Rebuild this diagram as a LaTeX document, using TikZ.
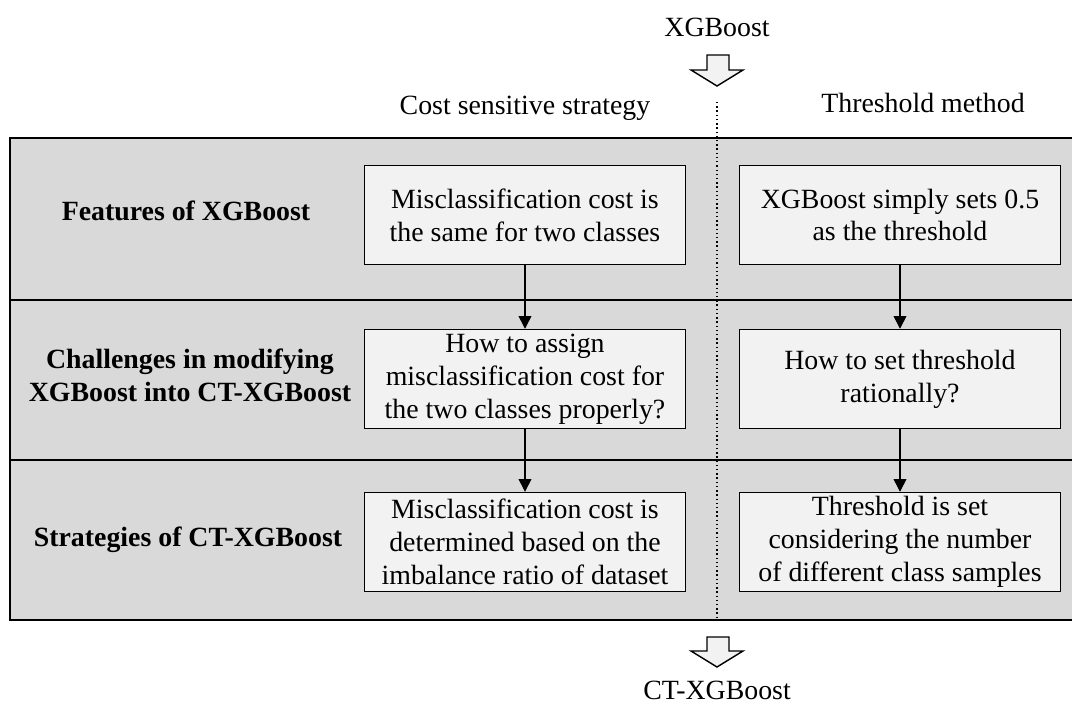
\documentclass[tikz,border=0pt]{standalone}
\usepackage{fontspec}
\setmainfont{Liberation Serif}
\usetikzlibrary{arrows.meta}

\definecolor{panelgray}{HTML}{D9D9D9}
\definecolor{boxgray}{HTML}{F2F2F2}

\tikzset{
    stepbox/.style={draw, line width=1pt, fill=boxgray, align=center,
        minimum width=8.025cm, minimum height=2.475cm, inner sep=2pt,
        font=\fontsize{19.8}{23.4}\selectfont},
    rowlabel/.style={align=center, font=\bfseries\fontsize{19.8}{23.4}\selectfont},
    headlabel/.style={font=\fontsize{19.8}{23.4}\selectfont},
    flow/.style={-{Triangle[length=9pt,width=9pt]}, line width=1pt}
}

\begin{document}
\begin{tikzpicture}[x=0.025cm, y=-0.025cm]
    \useasboundingbox (0,0) rectangle (1072,704);
    \clip (0,0) rectangle (1072,704);

    % Grey panel and row dividers
    \draw[line width=1pt, fill=panelgray] (10,138) rectangle (1080,620);
    \foreach \y in {300, 460} {
        \draw[line width=1pt] (10,\y) -- (1080,\y);
    }
    \draw[dotted, line width=1pt] (717,102) -- (717,620);

    % Input and output
    \node[headlabel] (xgb) at (717,27) {XGBoost};
    \node[headlabel] (ctxgb) at (717,690) {CT-XGBoost};
    \draw[line width=1pt, fill=boxgray] (707,55) -- (729,55) -- (729,70) -- (743,70)
        -- (717,86) -- (691,70) -- (707,70) -- cycle;
    \draw[line width=1pt, fill=boxgray] (707,637) -- (729,637) -- (729,651) -- (743,651)
        -- (717,667) -- (691,651) -- (707,651) -- cycle;

    % Column titles
    \node[headlabel] (cost) at (525,108) {Cost sensitive strategy};
    \node[headlabel] (thres) at (923,103) {Threshold method};

    % Row titles
    \node[rowlabel] (feat) at (186,211) {Features of XGBoost};
    \node[rowlabel] (chal) at (190,375) {Challenges in modifying\\XGBoost into CT-XGBoost};
    \node[rowlabel] (strat) at (188,540) {Strategies of CT-XGBoost};

    % Cost sensitive column
    \node[stepbox] (c1) at (525,215) {Misclassification cost is\\the same for two classes};
    \node[stepbox] (c2) at (525,379) {How to assign\\misclassification cost for\\the two classes properly?};
    \node[stepbox] (c3) at (525,542) {Misclassification cost is\\determined based on the\\imbalance ratio of dataset};

    % Threshold column
    \node[stepbox] (t1) at (900,215) {XGBoost simply sets 0.5\\as the threshold};
    \node[stepbox] (t2) at (900,379) {How to set threshold\\rationally?};
    \node[stepbox] (t3) at (900,542) {Threshold is set\\considering the number\\of different class samples};

    \draw[flow] (c1) -- (c2);
    \draw[flow] (c2) -- (c3);
    \draw[flow] (t1) -- (t2);
    \draw[flow] (t2) -- (t3);
\end{tikzpicture}
\end{document}
